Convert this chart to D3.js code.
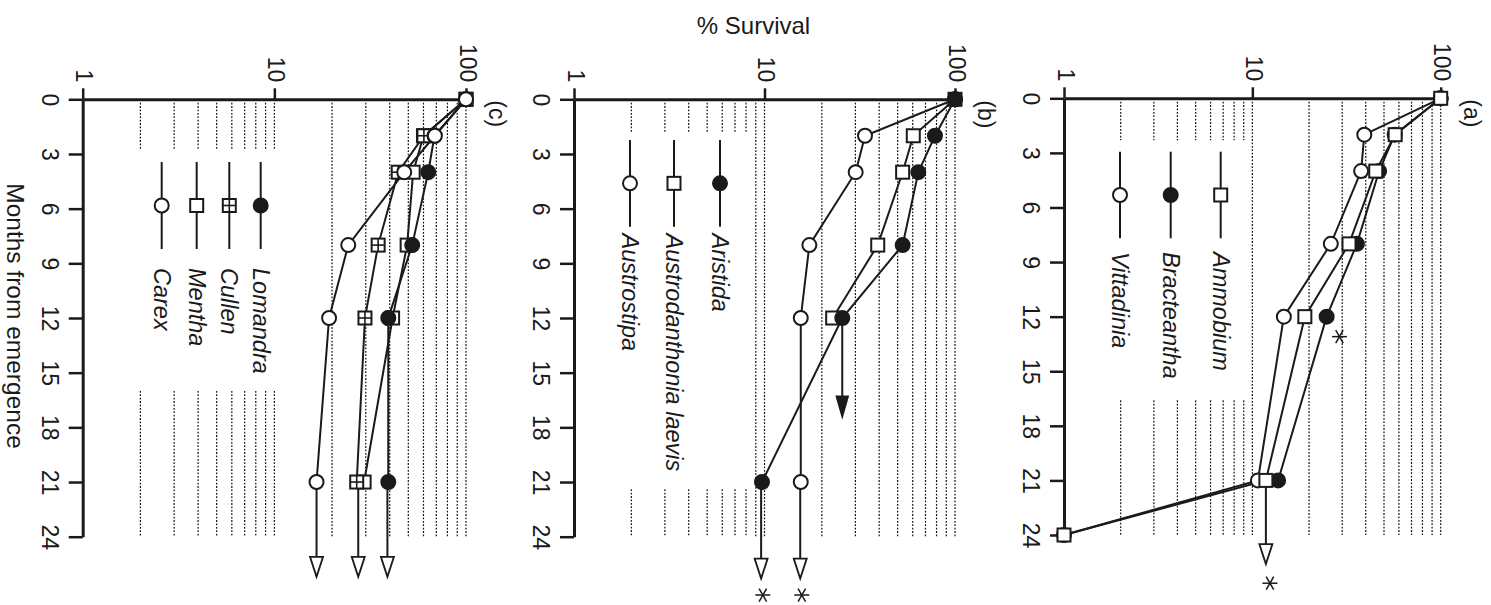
<!DOCTYPE html>
<html><head><meta charset="utf-8">
<script src="https://cdn.jsdelivr.net/npm/d3@7"></script>
<style>body{margin:0;background:#fff} svg{display:block}</style>
</head><body>
<svg id="chart" width="1491" height="605"></svg>
<script>
// ---------------- DATA ----------------
const months = [0, 2, 4, 8, 12, 21, 24];
const monthTicks = [0, 3, 6, 9, 12, 15, 18, 21, 24];
const survivalTicks = [1, 10, 100];
const gridValues = [2, 3, 4, 5, 6, 7, 8, 9, 10, 20, 30, 40, 50, 60, 70, 80, 90, 100];

// Panel (a)
const ammobium    = [100, 57.3, 45.2, 32.6, 19.0, 11.8, 1];
const bracteantha = [100, 57.0, 47.1, 35.9, 24.8, 13.7, null];
const vittadinia  = [100, 39.3, 37.8, 26.1, 14.7, 10.7, 1];
// Panel (b)
const aristida        = [100, 78.5, 64.2, 53.1, 25.6, 9.7, null];
const austrodanthonia = [100, 60.4, 53.1, 39.3, 22.8, null, null];
const austrostipa     = [100, 33.7, 30.1, 17.2, 15.5, 15.5, null];
// Panel (c)
const lomandra = [100, 68.5, 63.5, 52.4, 39.3, 39.3, null];
const cullen   = [100, 60.3, 44.3, 34.8, 29.7, 26.9, null];
const mentha   = [100, 60.0, 53.0, 49.3, 41.4, 29.4, null];
const carex    = [100, 68.8, 47.6, 24.3, 19.3, 16.6, null];

// arrows (month from -> arrow tip month, at survival value)
const arrowsA = [{from: 21, to: 25.6, value: 11.8, filled: false}];
const arrowsB = [{from: 12, to: 17.4, value: 25.6, filled: true},
                 {from: 21, to: 26.3, value: 9.6, filled: false},
                 {from: 21, to: 26.3, value: 15.4, filled: false}];
const arrowsC = [{from: 21, to: 26.2, value: 38.9, filled: false},
                 {from: 21, to: 26.2, value: 27.4, filled: false},
                 {from: 21, to: 26.2, value: 16.6, filled: false}];
// asterisks (significance marks)
const starsA = [{month: 13.1, value: 29.0}, {month: 26.65, value: 12.4}];
const starsB = [{month: 27.2, value: 9.8}, {month: 27.2, value: 15.7}];
const starsC = [];

// ---------------- LAYOUT ----------------
const FONT = "'Liberation Sans', Arial, Helvetica, sans-serif";
const INK = "#1a1a1a";

const panels = [
  {label: "(a)", xRange: [1064, 1440.7], yRange: [98.3, 535], gap: {max: 9, from: 2.3, to: 16.6},
   series: [{name: "Vittadinia", values: vittadinia, marker: "open"},
            {name: "Bracteantha", values: bracteantha, marker: "filled"},
            {name: "Ammobium", values: ammobium, marker: "square"}],
   legend: {items: ["Ammobium", "Bracteantha", "Vittadinia"], x: [1220.7, 1170.7, 1120], y0: 151.7, y1: 238.3, textY: 252},
   arrows: arrowsA, stars: starsA},
  {label: "(b)", xRange: [574, 955], yRange: [99.3, 536.7], gap: {max: 8, from: 1.85, to: 21.4},
   series: [{name: "Austrostipa", values: austrostipa, marker: "open"},
            {name: "Austrodanthonia laevis", values: austrodanthonia, marker: "square"},
            {name: "Aristida", values: aristida, marker: "filled"}],
   legend: {items: ["Aristida", "Austrodanthonia laevis", "Austrostipa"], x: [720, 674, 630], y0: 140, y1: 226.7, textY: 233.5},
   arrows: arrowsB, stars: starsB},
  {label: "(c)", xRange: [82.7, 466], yRange: [99.3, 536.7], gap: {max: 10, from: 2.8, to: 16.0},
   series: [{name: "Mentha", values: mentha, marker: "square"},
            {name: "Cullen", values: cullen, marker: "plus"},
            {name: "Lomandra", values: lomandra, marker: "filled"},
            {name: "Carex", values: carex, marker: "open"}],
   legend: {items: ["Lomandra", "Cullen", "Mentha", "Carex"], x: [260.7, 229.3, 196.7, 161.7], y0: 162, y1: 249, textY: 268},
   arrows: arrowsC, stars: starsC}
];

const svg = d3.select("#chart");

function drawMarker(g, type, cx, cy) {
  if (type === "open" || type === "filled") {
    g.append("circle").attr("cx", cx).attr("cy", cy).attr("r", 7)
      .attr("fill", type === "filled" ? INK : "#fff").attr("stroke", INK).attr("stroke-width", 2);
  } else {
    const s = 13;
    g.append("rect").attr("x", cx - s / 2).attr("y", cy - s / 2).attr("width", s).attr("height", s)
      .attr("fill", "#fff").attr("stroke", INK).attr("stroke-width", 2);
    if (type === "plus") {
      g.append("line").attr("x1", cx - s / 2).attr("x2", cx + s / 2).attr("y1", cy).attr("y2", cy)
        .attr("stroke", INK).attr("stroke-width", 1.6);
      g.append("line").attr("x1", cx).attr("x2", cx).attr("y1", cy - s / 2).attr("y2", cy + s / 2)
        .attr("stroke", INK).attr("stroke-width", 1.6);
    }
  }
}

function drawStar(g, cx, cy) {
  const r = 7.5;
  for (let k = 0; k < 3; k++) {
    const a = k * Math.PI / 3;
    g.append("line")
      .attr("x1", cx - r * Math.cos(a)).attr("y1", cy - r * Math.sin(a))
      .attr("x2", cx + r * Math.cos(a)).attr("y2", cy + r * Math.sin(a))
      .attr("stroke", INK).attr("stroke-width", 1.5);
  }
}

panels.forEach(p => {
  const x = d3.scaleLog().domain([1, 100]).range(p.xRange);
  const y = d3.scaleLinear().domain([0, 24]).range(p.yRange);
  const g = svg.append("g");

  // gridlines
  const grid = g.append("g");
  gridValues.forEach(v => {
    const segs = v <= p.gap.max ? [[0, p.gap.from], [p.gap.to, 24]] : [[0, 24]];
    segs.forEach(s => {
      grid.append("line").attr("x1", x(v)).attr("x2", x(v)).attr("y1", y(s[0])).attr("y2", y(s[1]))
        .attr("stroke", "#111").attr("stroke-width", 1.2).attr("stroke-dasharray", "1.8,1.6");
    });
  });

  // survival axis (top)
  const ax = g.append("g").attr("transform", `translate(0,${y(0)})`)
    .call(d3.axisTop(x).tickValues(survivalTicks).tickFormat(d3.format("d")).tickSize(11).tickSizeOuter(0));
  // months axis (left)
  const ay = g.append("g").attr("transform", `translate(${x(1)},0)`)
    .call(d3.axisLeft(y).tickValues(monthTicks).tickSize(14).tickSizeOuter(0));
  [ax, ay].forEach(a => {
    a.select(".domain").attr("stroke", INK).attr("stroke-width", 3);
    a.selectAll(".tick line").attr("stroke", INK).attr("stroke-width", 2.5);
    a.selectAll("text").attr("fill", INK).style("font-family", FONT).style("font-size", "23px");
  });
  ax.selectAll(".tick text").attr("x", null).attr("y", null).attr("dy", null)
    .attr("text-anchor", "end").attr("transform", "translate(-7,-17) rotate(90)");
  ay.selectAll(".tick text").attr("x", null).attr("y", null).attr("dy", null)
    .attr("text-anchor", "middle").attr("transform", "translate(-41,0) rotate(90)");

  // panel label
  g.append("text").attr("transform", `translate(${p.xRange[1] + 23},${y(0) + 1}) rotate(90)`)
    .attr("text-anchor", "start").attr("fill", INK)
    .style("font-family", FONT).style("font-size", "23px").text(p.label);

  // series lines
  const line = d3.line().defined(d => d.v != null).x(d => x(d.v)).y(d => y(d.m));
  p.series.forEach(s => {
    const pts = months.map((m, i) => ({m, v: s.values[i]}));
    g.append("path").datum(pts).attr("d", line).attr("fill", "none")
      .attr("stroke", INK).attr("stroke-width", 2);
  });

  // arrows
  p.arrows.forEach(a => {
    const ax0 = x(a.value), tip = y(a.to), h = 20, w = a.filled ? 11.5 : 13;
    g.append("line").attr("x1", ax0).attr("x2", ax0).attr("y1", y(a.from)).attr("y2", tip - h + 1)
      .attr("stroke", INK).attr("stroke-width", 2);
    g.append("path").attr("d", `M${ax0 - w / 2},${tip - h}L${ax0 + w / 2},${tip - h}L${ax0},${tip}Z`)
      .attr("fill", a.filled ? INK : "#fff").attr("stroke", INK).attr("stroke-width", 1.8)
      .attr("stroke-linejoin", "miter");
  });

  // markers
  p.series.forEach(s => {
    months.forEach((m, i) => {
      const v = s.values[i];
      if (v == null) return;
      drawMarker(g, s.marker, x(v), y(m));
    });
  });

  // legend
  const L = p.legend;
  L.items.forEach((name, i) => {
    const s = p.series.find(d => d.name === name);
    const lx = L.x[i];
    g.append("line").attr("x1", lx).attr("x2", lx).attr("y1", L.y0).attr("y2", L.y1)
      .attr("stroke", INK).attr("stroke-width", 2);
    drawMarker(g, s.marker, lx, (L.y0 + L.y1) / 2);
    g.append("text").attr("transform", `translate(${lx},${L.textY}) rotate(90)`)
      .attr("text-anchor", "start").attr("dominant-baseline", "central").attr("fill", INK)
      .style("font-family", FONT).style("font-size", "23.5px").style("font-style", "italic")
      .text(name);
  });

  // asterisks
  p.stars.forEach(st => drawStar(g, x(st.value), y(st.month)));
});

// titles
svg.append("text").attr("x", 753.5).attr("y", 34).attr("text-anchor", "middle").attr("fill", INK)
  .style("font-family", FONT).style("font-size", "24px").text("% Survival");
svg.append("text").attr("transform", "translate(6.5,316) rotate(90)").attr("text-anchor", "middle")
  .attr("fill", INK).style("font-family", FONT).style("font-size", "24.5px").text("Months from emergence");
</script>
</body></html>
